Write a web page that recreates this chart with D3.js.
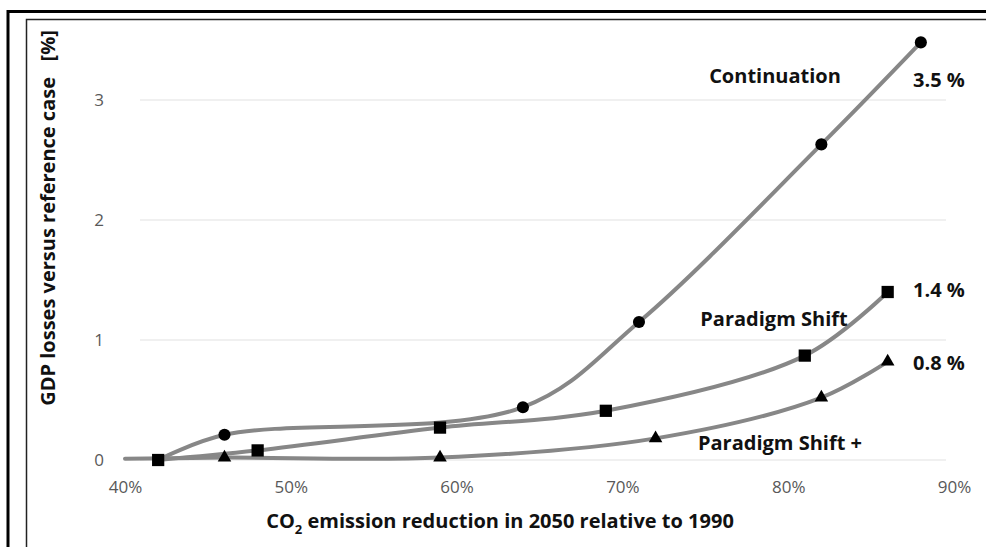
<!DOCTYPE html>
<html>
<head>
<meta charset="utf-8">
<script src="https://cdn.jsdelivr.net/npm/d3@7"></script>
<style>
  body { margin: 0; background: #fff; }
  text { font-family: "Open Sans", sans-serif; }
</style>
</head>
<body>
<div id="chart"></div>
<script>
// values (x: % reduction, y: % GDP loss)
var contX = [42, 46, 64, 71, 82, 88];
var contY = [0, 0.21, 0.44, 1.15, 2.63, 3.48];
var shiftX = [42, 48, 59, 69, 81, 86];
var shiftY = [0, 0.08, 0.27, 0.41, 0.87, 1.4];
var plusX = [40, 46, 59, 72, 82, 86];
var plusY = [0.01, 0.02, 0.02, 0.18, 0.52, 0.82];
// first point of Continuation / Paradigm Shift + carries no marker
var seriesNames = ["Continuation", "Paradigm Shift", "Paradigm Shift +"];
var endLabels = ["3.5 %", "1.4 %", "0.8 %"];
var xTicks = [40, 50, 60, 70, 80, 90];
var yTicks = [0, 1, 2, 3];

var width = 986, height = 547;

var svg = d3.select("#chart")
    .append("svg")
    .attr("width", width)
    .attr("height", height)
    .style("background-color", "#fff");

var x = d3.scaleLinear().domain([40, 90]).range([125, 954]);
var y = d3.scaleLinear().domain([0, 3]).range([460, 100]);

// frame lines (picture is cropped on the right and bottom)
svg.append("path")
    .attr("d", "M8," + height + "V11.5H" + width)
    .attr("fill", "none").attr("stroke", "#000").attr("stroke-width", 3);
svg.append("path")
    .attr("d", "M26.5," + height + "V19.5H" + width)
    .attr("fill", "none").attr("stroke", "#222").attr("stroke-width", 1.5);

// gridlines
svg.append("g")
    .selectAll("line")
    .data(yTicks)
    .enter()
    .append("line")
    .attr("x1", x(40) + 15)
    .attr("x2", x(90) - 8)
    .attr("y1", d => y(d))
    .attr("y2", d => y(d))
    .attr("stroke", "#f0f0f0")
    .attr("stroke-width", 2);

// axes, lines hidden, labels only
var xAxis = svg.append("g")
    .attr("transform", "translate(0," + (y(0) + 18) + ")")
    .call(d3.axisBottom(x).tickValues(xTicks).tickSize(0).tickFormat(d => d + "%"));
var yAxis = svg.append("g")
    .attr("transform", "translate(" + (x(40) - 18) + ",0)")
    .call(d3.axisLeft(y).tickValues(yTicks).tickSize(0).tickFormat(d3.format("d")));
[xAxis, yAxis].forEach(function (ax) {
    ax.select(".domain").remove();
    ax.selectAll("text")
        .attr("fill", "#595959")
        .style("font-size", "17px")
        .style("font-family", "Open Sans, sans-serif");
});

// series
var series = [
    { xs: contX, ys: contY, symbol: d3.symbolCircle, size: 115, skip: [0] },
    { xs: shiftX, ys: shiftY, symbol: d3.symbolSquare, size: 150, skip: [] },
    { xs: plusX, ys: plusY, symbol: d3.symbolTriangle, size: 80, skip: [0] }
];

var line = d3.line()
    .x(d => x(d[0]))
    .y(d => y(d[1]))
    .curve(d3.curveCatmullRom.alpha(0.5));

series.forEach(function (s) {
    s.points = s.xs.map((v, i) => [v, s.ys[i]]);
    svg.append("path")
        .datum(s.points)
        .attr("d", line)
        .attr("fill", "none")
        .attr("stroke", "#878787")
        .attr("stroke-width", 4)
        .attr("stroke-linecap", "round");
});

// markers on top of all lines
series.forEach(function (s) {
    svg.append("g")
        .selectAll("path")
        .data(s.points.filter((p, i) => s.skip.indexOf(i) < 0))
        .enter()
        .append("path")
        .attr("d", d3.symbol().type(s.symbol).size(s.size))
        .attr("transform", d => "translate(" + x(d[0]) + "," + y(d[1]) + ")")
        .attr("fill", "#000");
});

// series names and end values
var nameX = [775, 774, 780];
var nameY = [76, 319, 443];
svg.append("g")
    .selectAll("text")
    .data(seriesNames)
    .enter()
    .append("text")
    .attr("x", (d, i) => nameX[i])
    .attr("y", (d, i) => nameY[i])
    .attr("dy", "0.35em")
    .attr("text-anchor", "middle")
    .style("font-size", "20px")
    .style("font-weight", "bold")
    .attr("fill", "#111")
    .text(d => d);

var endY = [80, 290, 363];
svg.append("g")
    .selectAll("text")
    .data(endLabels)
    .enter()
    .append("text")
    .attr("x", 913)
    .attr("y", (d, i) => endY[i])
    .attr("dy", "0.35em")
    .style("font-size", "20px")
    .style("font-weight", "bold")
    .attr("fill", "#111")
    .text(d => d);

// axis titles
var xTitle = svg.append("text")
    .attr("x", 500)
    .attr("y", 521)
    .attr("dy", "0.35em")
    .attr("text-anchor", "middle")
    .style("font-size", "20px")
    .style("font-weight", "bold")
    .attr("fill", "#111");
xTitle.append("tspan").text("CO");
xTitle.append("tspan").attr("dy", "6").style("font-size", "13px").text("2");
xTitle.append("tspan").attr("dy", "-6").text(" emission reduction in 2050 relative to 1990");

svg.append("text")
    .attr("transform", "translate(48,218) rotate(-90)")
    .attr("dy", "0.35em")
    .attr("text-anchor", "middle")
    .style("font-size", "20px")
    .style("font-weight", "bold")
    .style("white-space", "pre")
    .attr("xml:space", "preserve")
    .attr("fill", "#111")
    .text("GDP losses versus reference case   [%]");
</script>
</body>
</html>
